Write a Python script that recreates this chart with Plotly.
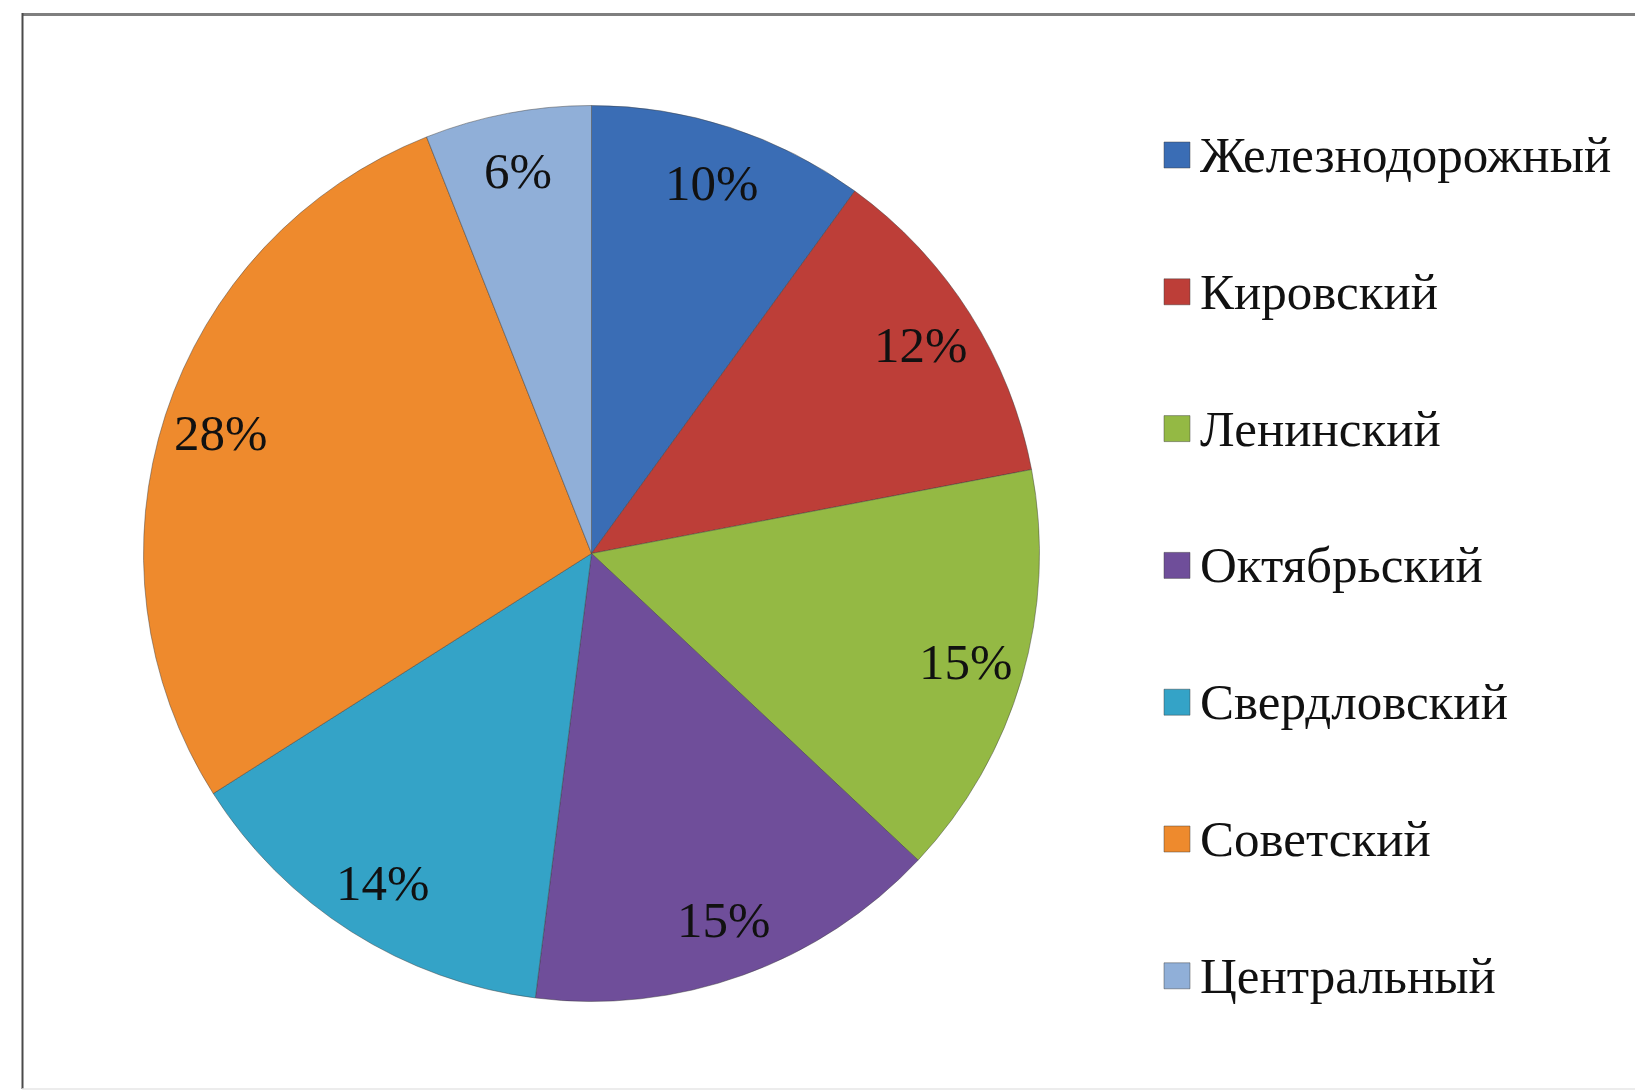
import math
import plotly.graph_objects as go

# District shares (percent), listed clockwise from 12 o'clock
districts = ["Железнодорожный", "Кировский", "Ленинский", "Октябрьский",
             "Свердловский", "Советский", "Центральный"]
shares = [10, 12, 15, 15, 14, 28, 6]
colors = ["#3A6DB5", "#BD3E38", "#94B944", "#6F4E9A", "#34A3C7", "#EE8A2D", "#90AFD8"]

W, H = 1635, 1092
font_family = "Liberation Serif, Times New Roman, serif"

# pie placement (pixels)
cx, cy, R = 591.5, 553.5, 448.0
dom_x = [(cx - R) / W, (cx + R) / W]
dom_y = [1 - (cy + R) / H, 1 - (cy - R) / H]

fig = go.Figure()
fig.add_trace(go.Pie(
    labels=districts,
    values=shares,
    sort=False,
    direction="clockwise",
    rotation=0,
    marker=dict(colors=colors, line=dict(color="rgba(60,60,60,0.45)", width=1)),
    textinfo="none",
    hoverinfo="label+percent",
    showlegend=False,
    domain=dict(x=dom_x, y=dom_y),
))

annotations = []
shapes = []

# percent labels placed along each slice's mid-angle
total = sum(shares)
cum = 0
for v in shares:
    mid = (cum + v / 2) / total * 2 * math.pi
    cum += v
    r = 0.87 * R
    px = cx + r * math.sin(mid)
    py = cy - r * math.cos(mid)
    annotations.append(dict(
        x=px / W, y=1 - py / H, xref="paper", yref="paper",
        text=f"{round(v / total * 100)}%", showarrow=False,
        xanchor="center", yanchor="middle",
        font=dict(family=font_family, size=51, color="#111111"),
    ))

# legend: colour squares with district names
leg_y0, leg_step = 153.0, 136.8
sq = 26
sq_x0 = 1164
for i, (name, col) in enumerate(zip(districts, colors)):
    yc = leg_y0 + i * leg_step
    shapes.append(dict(
        type="rect", xref="paper", yref="paper",
        x0=sq_x0 / W, x1=(sq_x0 + sq) / W,
        y0=1 - (yc + sq / 2 + 2) / H, y1=1 - (yc - sq / 2 + 2) / H,
        fillcolor=col, line=dict(color="rgba(60,60,60,0.45)", width=1),
    ))
    annotations.append(dict(
        x=1198 / W, y=1 - (yc + 2) / H, xref="paper", yref="paper",
        text=name, showarrow=False, xanchor="left", yanchor="middle",
        font=dict(family=font_family, size=51, color="#111111"),
    ))

# chart frame
shapes += [
    dict(type="line", xref="paper", yref="paper", x0=22 / W, x1=1, y0=1 - 14.5 / H, y1=1 - 14.5 / H,
         line=dict(color="#7F7F7F", width=3)),
    dict(type="line", xref="paper", yref="paper", x0=22.5 / W, x1=22.5 / W, y0=1 - 1089 / H, y1=1 - 13 / H,
         line=dict(color="#4A4A4A", width=2)),
    dict(type="line", xref="paper", yref="paper", x0=22 / W, x1=1, y0=1 - 1089 / H, y1=1 - 1089 / H,
         line=dict(color="#E6E6E6", width=1.5)),
]

fig.update_layout(
    width=W, height=H,
    margin=dict(l=0, r=0, t=0, b=0),
    paper_bgcolor="white",
    plot_bgcolor="white",
    annotations=annotations,
    shapes=shapes,
)

fig.write_html("out.html")
